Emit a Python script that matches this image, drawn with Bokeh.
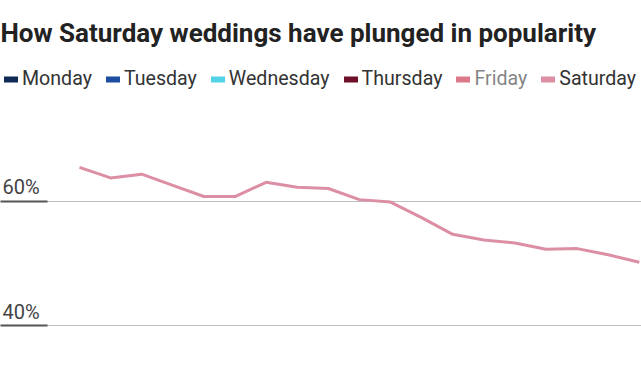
from bokeh.plotting import figure
from bokeh.models import Range1d, FixedTicker, Legend, LegendItem, LinearAxis
from bokeh.core.properties import value
from bokeh.embed import file_html
from bokeh.resources import INLINE

# ---- data ----
years = list(range(2004, 2023))
saturday = [65.5, 63.8, 64.4, 62.6, 60.8, 60.8, 63.1, 62.3, 62.1, 60.3,
            59.9, 57.4, 54.7, 53.8, 53.3, 52.3, 52.4, 51.4, 50.2]
days = ["Monday", "Tuesday", "Wednesday", "Thursday", "Friday", "Saturday"]
day_colors = ["#0f2a55", "#1c4d9e", "#52d3e8", "#6e0f2a", "#c4213f", "#dc8fa4"]
hidden_days = ["Friday"]
y_ticks = [40, 60]
y_tick_labels = ["40%", "60%"]
title_text = "How Saturday weddings have plunged in popularity"

x_start, x_end = 2001.46, 2022.07
y_start, y_end = 31.13, 83.06

p = figure(width=641, height=380, output_backend="svg", toolbar_location=None,
           x_range=Range1d(x_start, x_end), y_range=Range1d(y_start, y_end),
           x_axis_location=None, y_axis_location=None,
           min_border_left=0, min_border_right=0, min_border_top=58, min_border_bottom=0)
p.outline_line_color = None
p.background_fill_color = "white"
p.border_fill_color = "white"

p.title.text = title_text
p.title.text_font = "Roboto"
p.title.text_font_size = "26px"
p.title.text_font_style = "bold"
p.title.text_color = "#222222"
p.title.offset = 0
p.title.standoff = 21

# y axis: inward ticks only (dark underline under each label)
yax = LinearAxis(ticker=FixedTicker(ticks=y_ticks), axis_line_color=None,
                 major_tick_in=47, major_tick_out=0, major_tick_line_width=2,
                 major_tick_line_color="#555555", minor_tick_line_color=None,
                 major_label_overrides={t: "" for t in y_ticks},
                 major_label_text_font_size="1px", major_label_standoff=0)
p.add_layout(yax, "left")
p.xgrid.visible = False
p.ygrid.ticker = FixedTicker(ticks=y_ticks)
p.ygrid.grid_line_color = "#bdbdbd"
p.ygrid.grid_line_width = 1

p.text(x=[x_start] * len(y_ticks), y=y_ticks, text=y_tick_labels,
       text_font_size="20px", text_font=value("Roboto"), text_color="#444444",
       text_baseline="bottom", text_align="left", y_offset=-2, x_offset=2)

# Saturday line
p.line(years, saturday, line_color=day_colors[5], line_width=3, line_join="round")

# legend proxies
items = []
for d, c in zip(days, day_colors):
    r = p.line(x=[years[0]], y=[y_start - 10], line_color=c, line_width=6, line_cap="round")
    if d in hidden_days:
        r.visible = False
    items.append(LegendItem(label=d, renderers=[r]))

legend = Legend(items=items, orientation="horizontal", location=(4, 290),
                border_line_color=None, background_fill_alpha=0,
                padding=0, margin=0, spacing=14, glyph_width=14, glyph_height=16,
                label_standoff=4, label_text_font="Roboto", label_text_font_size="19.6px",
                label_text_color="#333333", inactive_fill_color="white",
                inactive_fill_alpha=0.4, click_policy="hide")
p.add_layout(legend, "center")

open("out.html", "w").write(file_html(p, INLINE))
